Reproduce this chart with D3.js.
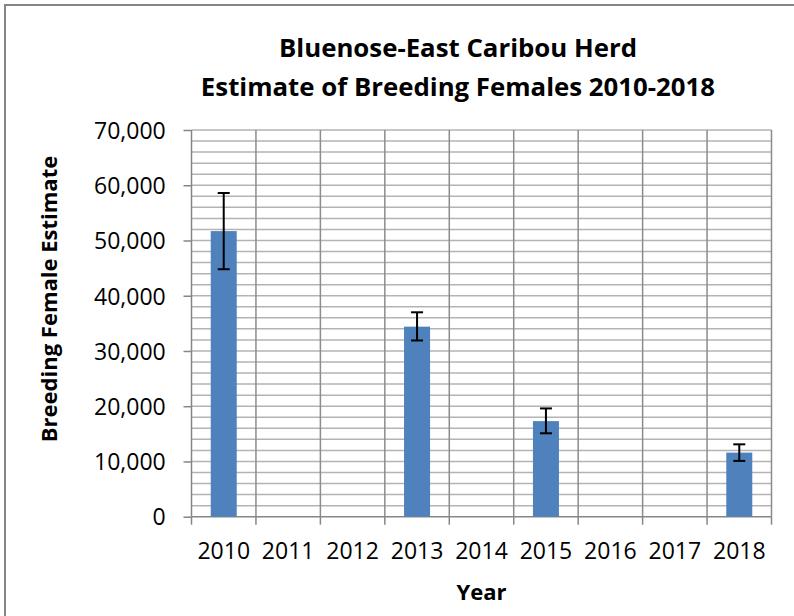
<!DOCTYPE html>
<html>
<head>
<meta charset="utf-8">
<script src="https://cdn.jsdelivr.net/npm/d3@7"></script>
<style>
  body { margin: 0; background: #fff; }
  text { font-family: "Open Sans", sans-serif; fill: #000; }
</style>
</head>
<body>
<svg id="chart" width="794" height="616"></svg>
<script>
// data
let years = ["2010", "2011", "2012", "2013", "2014", "2015", "2016", "2017", "2018"];
let estimates = [51700, null, null, 34400, null, 17300, null, null, 11600];
let errLow = [44800, null, null, 31900, null, 15100, null, null, 10100];
let errHigh = [58600, null, null, 37000, null, 19600, null, null, 13100];
let yTicks = [0, 10000, 20000, 30000, 40000, 50000, 60000, 70000];
let titleLines = ["Bluenose-East Caribou Herd", "Estimate of Breeding Females 2010-2018"];

var svg = d3.select("#chart"),
    plotL = 191.5, plotR = 771.5, plotT = 130, plotB = 516.7;

// outer frame (cut off at right and bottom)
svg.append("path").attr("d", "M5,616 V5 H794").attr("fill", "none")
    .attr("stroke", "#868686").attr("stroke-width", 2);

var xScale = d3.scaleBand().domain(years).range([plotL, plotR]).paddingInner(0).paddingOuter(0),
    yScale = d3.scaleLinear().domain([0, 70000]).range([plotB, plotT]);

// horizontal gridlines every 2,000
svg.append("g").selectAll("line").data(d3.range(2000, 70001, 2000)).enter().append("line")
    .attr("x1", plotL).attr("x2", plotR)
    .attr("y1", function (d) { return yScale(d); }).attr("y2", function (d) { return yScale(d); })
    .attr("stroke", "#b3b3b3").attr("stroke-width", 1.5);

// vertical gridlines at category boundaries
svg.append("g").selectAll("line").data(years).enter().append("line")
    .attr("x1", function (d) { return xScale(d) + xScale.step(); })
    .attr("x2", function (d) { return xScale(d) + xScale.step(); })
    .attr("y1", plotT).attr("y2", plotB)
    .attr("stroke", "#8c8c8c").attr("stroke-width", 1.5);

// y axis
var yAxis = svg.append("g").attr("transform", "translate(" + plotL + ",0)")
    .call(d3.axisLeft(yScale).tickValues(yTicks).tickSize(8).tickPadding(17.8)
        .tickFormat(d3.format(",")));
yAxis.select(".domain").attr("stroke", "#868686").attr("stroke-width", 1.5).attr("d", "M0," + plotT + "V" + plotB);
yAxis.selectAll(".tick line").attr("stroke", "#868686").attr("stroke-width", 1.5);
yAxis.selectAll(".tick text").style("font-size", "23px").attr("dy", "0.36em");

// x axis with ticks at category boundaries
var xAxis = svg.append("g").attr("transform", "translate(0," + plotB + ")")
    .call(d3.axisBottom(xScale).tickSize(0).tickPadding(26.3));
xAxis.select(".domain").attr("stroke", "#868686").attr("stroke-width", 1.5).attr("d", "M" + plotL + ",0H" + plotR);
xAxis.selectAll(".tick text").style("font-size", "23px");
xAxis.append("g").selectAll("line").data(d3.range(years.length + 1)).enter().append("line")
    .attr("x1", function (d) { return plotL + xScale.step() * d; })
    .attr("x2", function (d) { return plotL + xScale.step() * d; })
    .attr("y1", 0).attr("y2", 8)
    .attr("stroke", "#868686").attr("stroke-width", 1.5);

// bars
var barW = 26;
var pts = years.map(function (y, i) { return { year: y, v: estimates[i], lo: errLow[i], hi: errHigh[i] }; })
    .filter(function (d) { return d.v !== null; });
svg.append("g").selectAll("rect").data(pts).enter().append("rect")
    .attr("x", function (d) { return xScale(d.year) + xScale.bandwidth() / 2 - barW / 2; })
    .attr("y", function (d) { return yScale(d.v); })
    .attr("width", barW)
    .attr("height", function (d) { return plotB - yScale(d.v); })
    .attr("fill", "#4f81bd");

// error bars
var eb = svg.append("g").selectAll("g").data(pts).enter().append("g")
    .attr("transform", function (d) { return "translate(" + (xScale(d.year) + xScale.bandwidth() / 2) + ",0)"; });
eb.append("line").attr("x1", 0).attr("x2", 0)
    .attr("y1", function (d) { return yScale(d.hi); }).attr("y2", function (d) { return yScale(d.lo); })
    .attr("stroke", "#000").attr("stroke-width", 2);
eb.append("line").attr("x1", -6).attr("x2", 6)
    .attr("y1", function (d) { return yScale(d.hi); }).attr("y2", function (d) { return yScale(d.hi); })
    .attr("stroke", "#000").attr("stroke-width", 2);
eb.append("line").attr("x1", -6).attr("x2", 6)
    .attr("y1", function (d) { return yScale(d.lo); }).attr("y2", function (d) { return yScale(d.lo); })
    .attr("stroke", "#000").attr("stroke-width", 2);

// titles
svg.append("g").selectAll("text").data(titleLines).enter().append("text")
    .attr("x", 458).attr("y", function (d, i) { return 56.7 + i * 39; })
    .attr("text-anchor", "middle").style("font-size", "25.8px").style("font-weight", "bold")
    .text(function (d) { return d; });

svg.append("text").attr("transform", "translate(57,299) rotate(-90)")
    .attr("text-anchor", "middle").style("font-size", "22px").style("font-weight", "bold")
    .text("Breeding Female Estimate");

svg.append("text").attr("x", (plotL + plotR) / 2).attr("y", 600)
    .attr("text-anchor", "middle").style("font-size", "22px").style("font-weight", "bold")
    .text("Year");
</script>
</body>
</html>
